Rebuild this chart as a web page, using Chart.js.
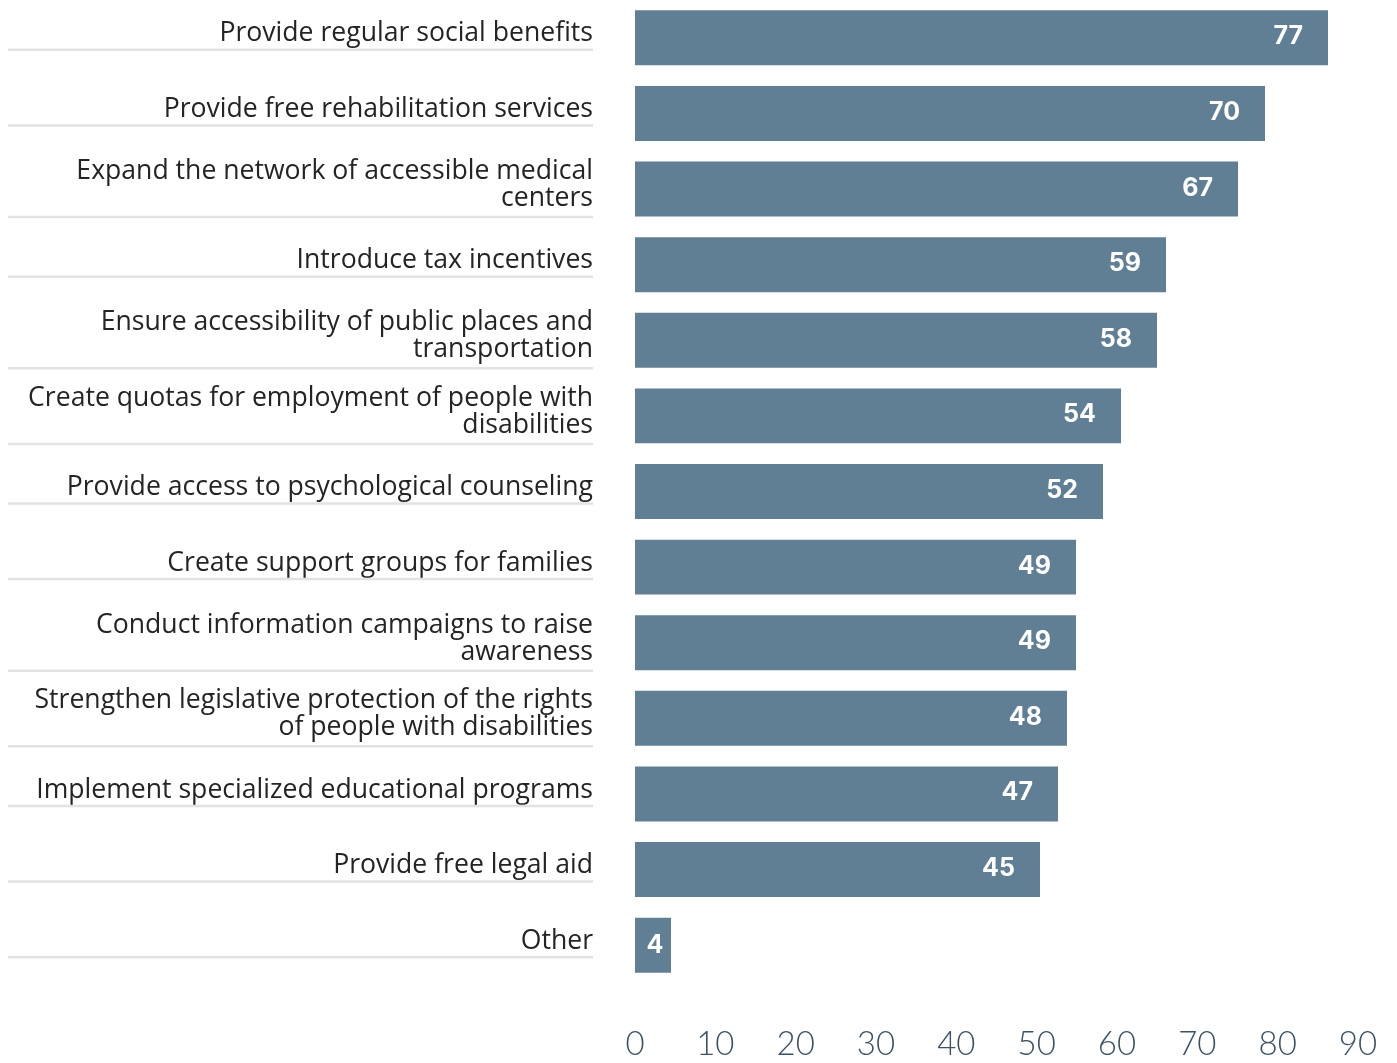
<!DOCTYPE html>
<html>
<head>
<meta charset="utf-8">
<script src="https://cdn.jsdelivr.net/npm/chart.js@4.4.1/dist/chart.umd.min.js"></script>
<style>
  html, body { margin: 0; padding: 0; background: #ffffff; }
  #wrap { width: 1397px; height: 1063px; position: relative; }
</style>
</head>
<body>
<div id="wrap"><canvas id="c" width="1397" height="1063"></canvas></div>
<script>
const categories = [
  "Provide regular social benefits",
  "Provide free rehabilitation services",
  ["Expand the network of accessible medical", "centers"],
  "Introduce tax incentives",
  ["Ensure accessibility of public places and", "transportation"],
  ["Create quotas for employment of people with", "disabilities"],
  "Provide access to psychological counseling",
  "Create support groups for families",
  ["Conduct information campaigns to raise", "awareness"],
  ["Strengthen legislative protection of the rights", "of people with disabilities"],
  "Implement specialized educational programs",
  "Provide free legal aid",
  "Other"
];
const values = [77, 70, 67, 59, 58, 54, 52, 49, 49, 48, 47, 45, 4];
const axisTickMin = 0;
const axisTickMax = 90;
const axisTickStep = 10;

const BAR_COLOR = '#617f94';
const PX_PER_UNIT_BARS = 9.0;
const PX_PER_UNIT_AXIS = 723 / 90;
const AREA_WIDTH = 750;

const underlinePlugin = {
  id: 'underlines',
  afterDraw(chart) {
    const ys = chart.scales.y;
    const ctx = chart.ctx;
    ctx.save();
    ctx.strokeStyle = '#e2e2e2';
    ctx.lineWidth = 2.5;
    ys.ticks.forEach((t, i) => {
      const lbl = categories[i];
      const lines = Array.isArray(lbl) ? lbl.length : 1;
      const y = ys.getPixelForTick(i) + (lines > 1 ? 28 : 12);
      ctx.beginPath();
      ctx.moveTo(8, y);
      ctx.lineTo(ys.right - 42, y);
      ctx.stroke();
    });
    ctx.restore();
  }
};

const valueLabelPlugin = {
  id: 'valueLabels',
  afterDatasetsDraw(chart) {
    const ctx = chart.ctx;
    const meta = chart.getDatasetMeta(0);
    ctx.save();
    ctx.font = '700 25px Inter, "Open Sans", sans-serif';
    ctx.fillStyle = '#ffffff';
    ctx.textBaseline = 'middle';
    meta.data.forEach((bar, i) => {
      const txt = String(values[i]);
      const tw = ctx.measureText(txt).width;
      const w = bar.x - bar.base;
      if (w > tw + 40) {
        ctx.textAlign = 'right';
        ctx.fillText(txt, bar.x - 25, bar.y - 1);
      } else {
        ctx.textAlign = 'center';
        ctx.fillText(txt, (bar.x + bar.base) / 2 + 2, bar.y);
      }
    });
    ctx.restore();
  }
};

new Chart(document.getElementById('c'), {
  type: 'bar',
  data: {
    labels: categories,
    datasets: [{
      data: values,
      backgroundColor: BAR_COLOR,
      borderWidth: 0,
      categoryPercentage: 1.0,
      barPercentage: 0.727,
      xAxisID: 'x',
      yAxisID: 'y'
    }]
  },
  options: {
    indexAxis: 'y',
    responsive: false,
    animation: false,
    events: [],
    layout: { padding: { left: 0, right: 1397 - 635 - AREA_WIDTH, top: -1, bottom: 0 } },
    plugins: { legend: { display: false }, tooltip: { enabled: false }, title: { display: false } },
    scales: {
      y: {
        type: 'category',
        position: 'left',
        grid: { display: false, drawTicks: false },
        border: { display: false },
        ticks: {
          autoSkip: false,
          padding: 42,
          labelOffset: -4,
          color: '#242424',
          font: { family: '"Open Sans", sans-serif', size: 26.6, lineHeight: '27px' }
        },
        afterFit(scale) {
          scale.width = 635;
          scale.paddingTop = 0;
          scale.paddingBottom = 0;
        }
      },
      x: {
        type: 'linear',
        position: 'bottom',
        display: false,
        min: 0,
        max: AREA_WIDTH / PX_PER_UNIT_BARS
      },
      x2: {
        type: 'linear',
        position: 'bottom',
        min: axisTickMin,
        max: AREA_WIDTH / PX_PER_UNIT_AXIS,
        grid: { display: false, drawTicks: false },
        border: { display: false },
        ticks: {
          stepSize: axisTickStep,
          includeBounds: false,
          padding: 43,
          maxRotation: 0,
          autoSkip: false,
          color: '#3c5264',
          font: { family: 'Lato, sans-serif', size: 33, weight: '300', lineHeight: '37px' },
          callback: (v) => (v <= axisTickMax ? String(v) : '')
        },
        afterFit(scale) {
          scale.height = 80;
          scale.paddingLeft = 0;
          scale.paddingRight = 0;
        }
      }
    }
  },
  plugins: [underlinePlugin, valueLabelPlugin]
});
</script>
</body>
</html>
